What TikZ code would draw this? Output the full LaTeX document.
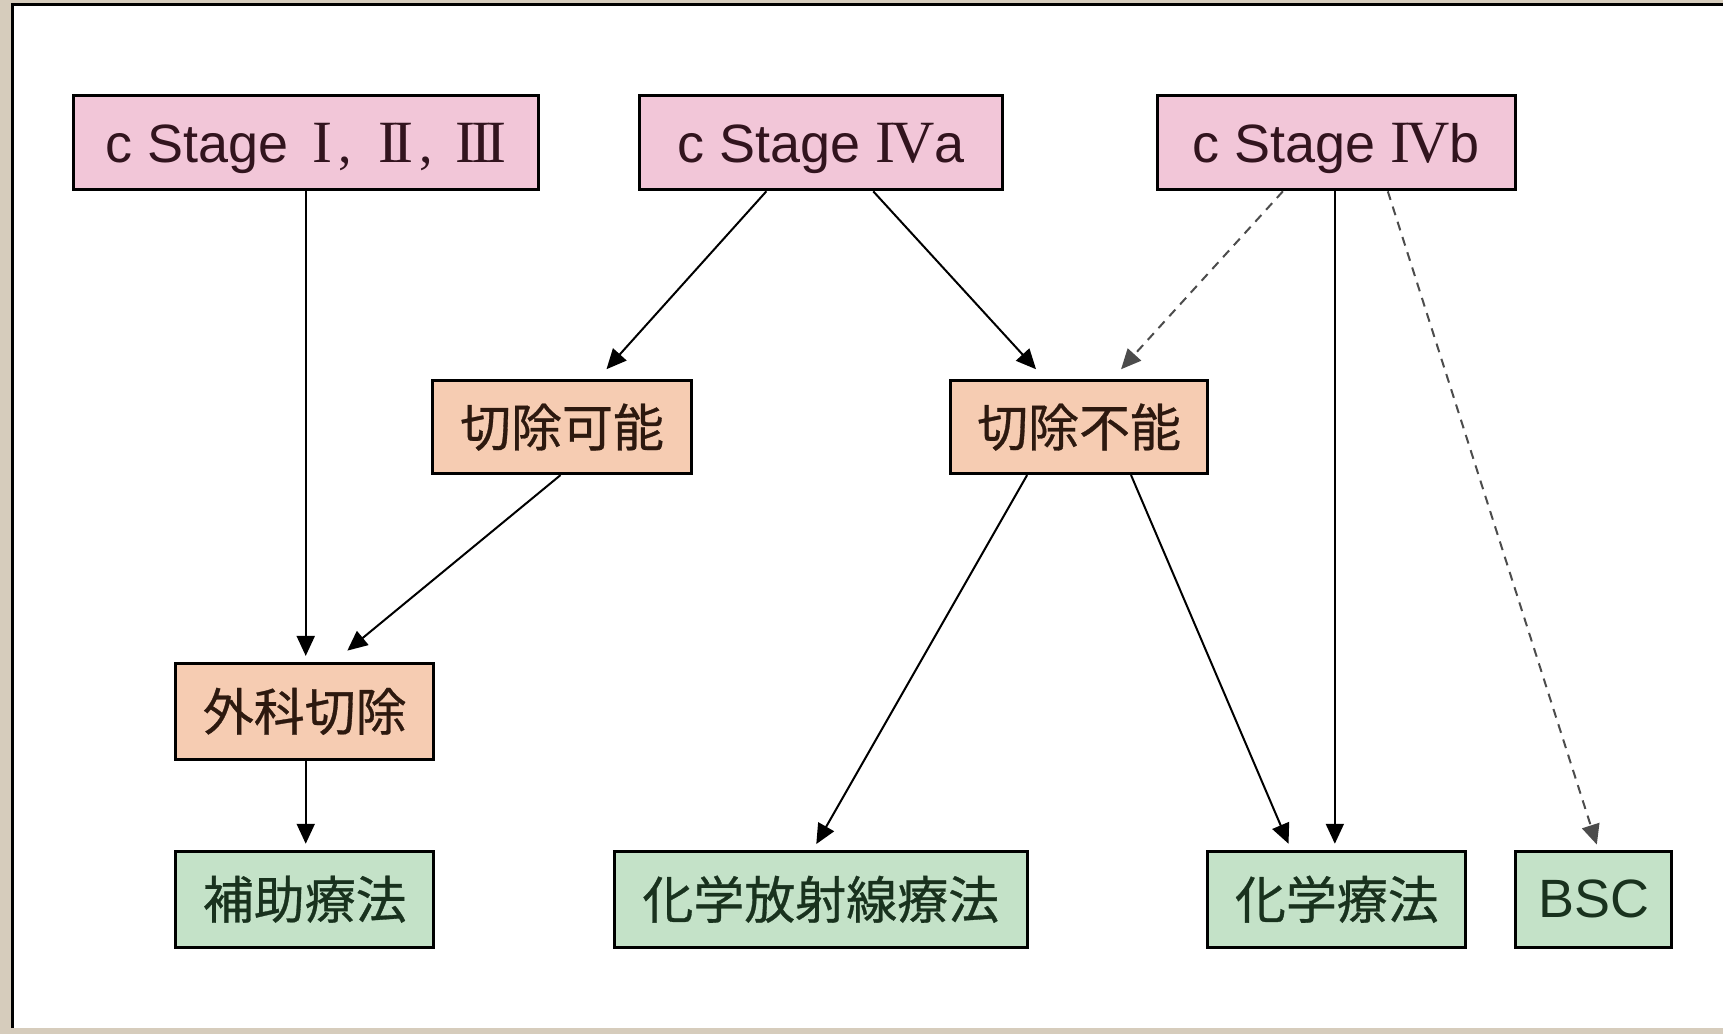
\documentclass[tikz,border=0pt]{standalone}
\usepackage{fontspec}
\setmainfont{Liberation Sans}
\newfontfamily\jpfont[FakeBold=0.6]{Noto Sans CJK JP}
\newfontfamily\romfont{Liberation Serif}
\usetikzlibrary{arrows.meta}
\definecolor{beige}{RGB}{214,204,188}
\definecolor{pinkfill}{RGB}{242,198,216}
\definecolor{peachfill}{RGB}{246,204,178}
\definecolor{greenfill}{RGB}{196,226,200}
\definecolor{pinktext}{RGB}{50,20,30}
\definecolor{peachtext}{RGB}{45,25,15}
\definecolor{greentext}{RGB}{25,50,30}
\newcommand{\rn}[1]{{\romfont\fontsize{60}{66}\selectfont\addfontfeature{LetterSpace=-7}#1}}
\tikzset{
  box/.style={draw=black, line width=3pt, inner sep=0pt, anchor=center},
  stagebox/.style={box, fill=pinkfill, text=pinktext, text depth=0pt, font=\fontsize{54}{60}\selectfont},
  midbox/.style={box, fill=peachfill, text=peachtext, font=\jpfont\fontsize{51}{58}\selectfont},
  endbox/.style={box, fill=greenfill, text=greentext, font=\jpfont\fontsize{51}{58}\selectfont},
  conn/.style={line width=2pt, -{Triangle[length=20pt,width=18pt]}, shorten >=6pt},
  dconn/.style={conn, dashed, dash pattern=on 9pt off 7pt, draw=black!70}
}
\begin{document}
\begin{tikzpicture}[x=1pt,y=-1pt]
\fill[beige] (0,0) rectangle (1724,1035);
\fill[white] (13,5) rectangle (1724,1029);
\draw[line width=3pt] (13,1029) -- (13,5) -- (1724,5);
% top row
\node[stagebox, minimum width=465pt, minimum height=94pt] (s1) at (306.5,143) {c Stage\hspace{24pt}\rn{I}\hspace{6pt}{\romfont,}\hspace{26pt}\rn{II}\hspace{6pt}{\romfont,}\hspace{22pt}\rn{III}};
\node[stagebox, minimum width=363pt, minimum height=94pt] (s4a) at (821.5,143) {c Stage \rn{IV}a};
\node[stagebox, minimum width=359pt, minimum height=94pt] (s4b) at (1337.5,143) {c Stage \rn{IV}b};
% middle
\node[midbox, minimum width=259pt, minimum height=93pt] (ok) at (562.5,427.5) {切除可能};
\node[midbox, minimum width=258pt, minimum height=93pt] (ng) at (1080,427.5) {切除不能};
\node[midbox, minimum width=258pt, minimum height=96pt] (surg) at (305,712) {外科切除};
% bottom
\node[endbox, minimum width=258pt, minimum height=96pt] (adj) at (305,900) {補助療法};
\node[endbox, minimum width=413pt, minimum height=96pt] (crt) at (821.5,900) {化学放射線療法};
\node[endbox, minimum width=258pt, minimum height=96pt] (chemo) at (1338,900) {化学療法};
\node[endbox, minimum width=156pt, minimum height=96pt, font=\fontsize{54}{60}\selectfont] (bsc) at (1595,900) {BSC};
% connectors
\draw[conn] (s1.south -| 306,0) -- (surg.north -| 306,0);
\draw[conn] (s4a.south -| 767,0) -- (603,374);
\draw[conn] (s4a.south -| 874,0) -- (1041,374);
\draw[dconn] (s4b.south -| 1284,0) -- (1118,374);
\draw[conn] (s4b.south -| 1336,0) -- (chemo.north -| 1336,0);
\draw[dconn] (s4b.south -| 1389,0) -- (1600,851);
\draw[conn] (ok.south -| 561,0) -- (343,655);
\draw[conn] (surg.south -| 306,0) -- (adj.north -| 306,0);
\draw[conn] (ng.south -| 1028,0) -- (814,850);
\draw[conn] (ng.south -| 1132,0) -- (1292,850);
\end{tikzpicture}
\end{document}
